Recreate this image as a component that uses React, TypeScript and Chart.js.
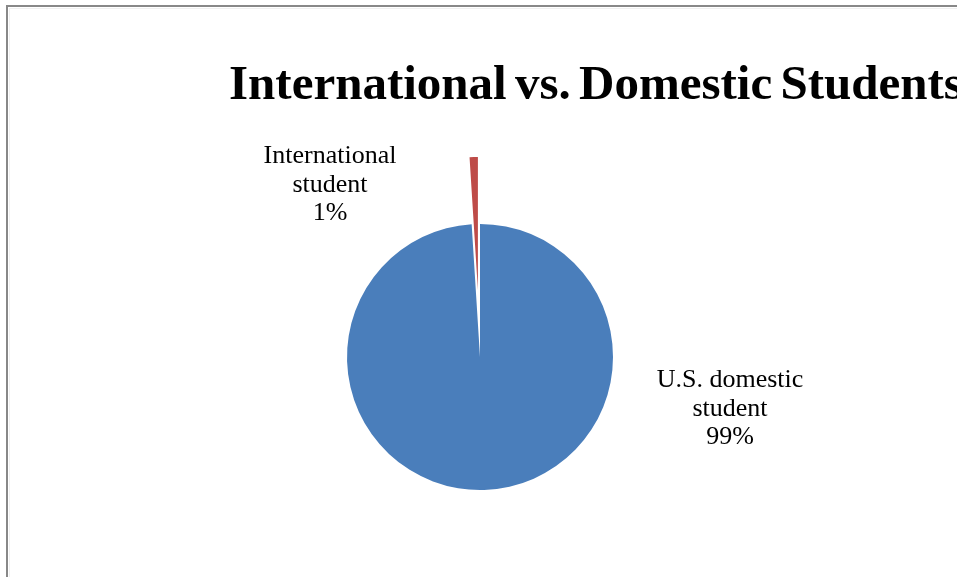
import React, { useEffect, useRef } from "react";
import { Chart, registerables } from "chart.js";

Chart.register(...registerables);

// ---- data ----
const chartTitle = "International vs. Domestic Students";
const categories = [
  ["U.S. domestic", "student"],
  ["International", "student"],
];
const values = [99, 1];
const sliceColors = ["#4A7EBB", "#BE4B48"];
const sliceExplode = [0, 67];

const W = 957;
const H = 577;

const decorPlugin = {
  id: "decor",
  afterDatasetsUpdate(chart: any) {
    // explode slices outward along their mid-angle (Excel-style point explosion)
    const meta = chart.getDatasetMeta(0);
    meta.data.forEach((arc: any, i: number) => {
      const d = sliceExplode[i] || 0;
      if (!d) return;
      const mid = (arc.startAngle + arc.endAngle) / 2;
      arc.x += Math.cos(mid) * d;
      arc.y += Math.sin(mid) * d;
    });
  },
  beforeDraw(chart: any) {
    const ctx = chart.ctx;
    ctx.save();
    ctx.fillStyle = "#ffffff";
    ctx.fillRect(0, 0, chart.width, chart.height);
    // chart-area frame (cropped on right and bottom)
    ctx.strokeStyle = "#888888";
    ctx.lineWidth = 2;
    ctx.strokeRect(7, 6, chart.width + 40, chart.height + 40);
    ctx.strokeStyle = "#f0f0f0";
    ctx.lineWidth = 1;
    ctx.strokeRect(9.5, 8.5, chart.width + 40, chart.height + 40);
    ctx.restore();
  },
  afterDraw(chart: any) {
    const ctx = chart.ctx;
    ctx.save();
    // title
    ctx.fillStyle = "#000000";
    ctx.font = "bold 49px 'Liberation Serif', 'Times New Roman', serif";
    ctx.textAlign = "left";
    ctx.textBaseline = "alphabetic";
    try {
      (ctx as any).wordSpacing = "-4px";
    } catch (e) {}
    ctx.fillText(chartTitle, 229, 99);
    try {
      (ctx as any).wordSpacing = "0px";
    } catch (e) {}

    // data labels, placed relative to the pie centre
    const meta = chart.getDatasetMeta(0);
    const base = meta.data[0];
    const total = values.reduce((a, b) => a + b, 0);
    const anchors = [
      { dx: 250, dy: 30 },
      { dx: -150, dy: -194 },
    ];
    const lineH = 28.7;
    ctx.font = "26px 'Liberation Serif', 'Times New Roman', serif";
    ctx.textAlign = "center";
    meta.data.forEach((_arc: any, i: number) => {
      const cx = base.x;
      const cy = base.y;
      const pct = Math.round((values[i] / total) * 100) + "%";
      const lines = [...categories[i], pct];
      lines.forEach((t, j) => {
        ctx.fillText(t, cx + anchors[i].dx, cy + anchors[i].dy + j * lineH);
      });
    });
    ctx.restore();
  },
};

export default function App() {
  const ref = useRef<HTMLCanvasElement | null>(null);
  useEffect(() => {
    if (!ref.current) return;
    const chart = new Chart(ref.current, {
      type: "pie",
      data: {
        labels: categories,
        datasets: [
          {
            data: values,
            backgroundColor: sliceColors,
            borderWidth: 0,
            clip: false,
          } as any,
        ],
      },
      options: {
        responsive: false,
        animation: false,
        radius: 133,
        rotation: 0,
        layout: { padding: { left: 150, right: 147, top: 200, bottom: 63 } },
        plugins: {
          legend: { display: false },
          title: { display: false },
          tooltip: { enabled: false },
        },
      } as any,
      plugins: [decorPlugin],
    });
    return () => chart.destroy();
  }, []);
  return (
    <canvas
      ref={ref}
      width={W}
      height={H}
      style={{ position: "fixed", left: 0, top: 0, width: W, height: H }}
    />
  );
}
